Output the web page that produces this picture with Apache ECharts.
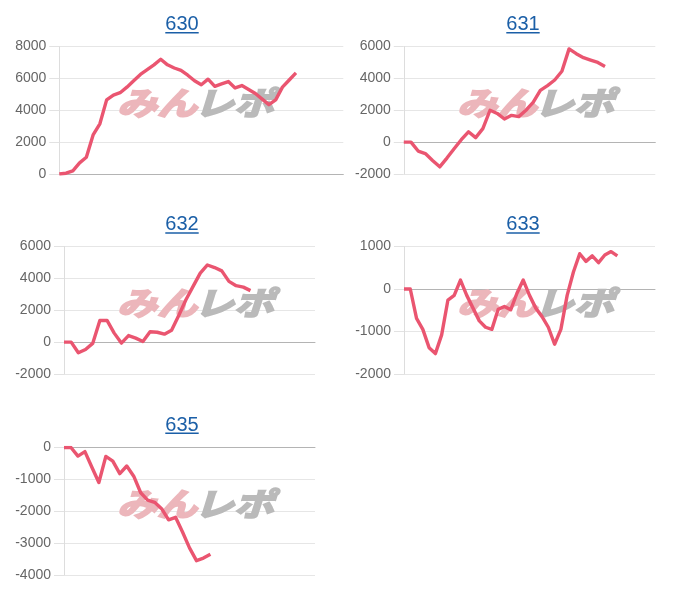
<!DOCTYPE html>
<html>
<head>
<meta charset="utf-8">
<script src="https://cdn.jsdelivr.net/npm/echarts@6/dist/echarts.min.js"></script>
<style>
  html, body { margin: 0; padding: 0; background: #fff; }
  #chart { width: 700px; height: 600px; }
</style>
</head>
<body>
<div id="chart"></div>
<script>
// ---- data ----
const titles = ['630', '631', '632', '633', '635'];
// number of x slots (intervals) on each chart's x axis
const slotCounts = [42, 35, 35, 40, 36];
const s630 = [0, 50, 200, 700, 1050, 2450, 3150, 4650, 4950, 5100, 5450, 5850, 6250, 6550, 6850, 7200, 6850, 6650, 6500, 6200, 5850, 5600, 5950, 5500, 5650, 5800, 5400, 5550, 5300, 5050, 4700, 4350, 4650, 5450, 5900, 6350];
const s631 = [0, 0, -560, -720, -1150, -1550, -1000, -420, 150, 650, 280, 850, 2000, 1800, 1450, 1680, 1600, 2000, 2500, 3250, 3550, 3900, 4450, 5850, 5550, 5300, 5150, 5000, 4750];
const s632 = [0, 0, -670, -460, -80, 1360, 1360, 565, -60, 410, 250, 40, 650, 620, 500, 740, 1670, 2660, 3500, 4330, 4840, 4680, 4470, 3810, 3540, 3450, 3230];
const s633 = [0, 0, -690, -950, -1380, -1520, -1080, -260, -150, 210, -150, -450, -750, -900, -950, -480, -410, -490, -100, 210, -150, -450, -650, -900, -1300, -950, -150, 400, 830, 650, 780, 620, 800, 880, 780];
const s635 = [0, 0, -270, -130, -620, -1100, -280, -430, -820, -580, -900, -1420, -1650, -1720, -1920, -2270, -2190, -2650, -3150, -3550, -3470, -3350];
const yMin = [0, -2000, -2000, -2000, -4000];
const yMax = [8000, 6000, 6000, 1000, 0];
const yStep = [2000, 2000, 2000, 1000, 1000];
const seriesData = [s630, s631, s632, s633, s635];

// ---- layout ----
const layout = [
  { left: 59.3, top: 46.5, width: 284, height: 127.5, tx: 182, ty: 24.5, wx: 200, wy: 103 },
  { left: 403.8, top: 46.5, width: 251.5, height: 127.5, tx: 523, ty: 24.5, wx: 540, wy: 103 },
  { left: 64, top: 246.5, width: 251, height: 127.5, tx: 182, ty: 224.6, wx: 200, wy: 303 },
  { left: 404, top: 246.5, width: 251, height: 127.5, tx: 523, ty: 224.6, wx: 540, wy: 303 },
  { left: 64, top: 447.5, width: 251, height: 127.5, tx: 182, ty: 425, wx: 200, wy: 504 }
];

const LINE = '#ea5570';
const LABEL_FONT = 'Arial, "Liberation Sans", Helvetica, sans-serif';
const WM_FONT = 'italic bold 40px "Noto Sans CJK JP"';

const grids = [], xAxes = [], yAxes = [], series = [], graphics = [];

layout.forEach((L, k) => {
  const n = slotCounts[k];
  const cats = Array.from({ length: n + 1 }, (_, i) => String(i + 1));
  grids.push({ left: L.left, top: L.top, width: L.width, height: L.height, containLabel: false });
  xAxes.push({
    type: 'category', gridIndex: k, data: cats, boundaryGap: false,
    axisLine: { show: true, onZero: true, lineStyle: { color: '#b4b4b4', width: 1 } },
    axisTick: { show: false }, axisLabel: { show: false }, splitLine: { show: false }
  });
  yAxes.push({
    type: 'value', gridIndex: k, min: yMin[k], max: yMax[k], interval: yStep[k],
    axisLine: { show: true, lineStyle: { color: '#dddddd', width: 1 } },
    axisTick: { show: true, length: 10, lineStyle: { color: '#e2e2e2' } },
    axisLabel: { color: '#666666', fontSize: 14, fontFamily: LABEL_FONT, margin: 13,
                 formatter: (v) => String(v) },
    splitLine: { show: true, lineStyle: { color: '#e6e6e6', width: 1 } }
  });
  series.push({
    type: 'line', xAxisIndex: k, yAxisIndex: k, data: seriesData[k],
    showSymbol: false, symbol: 'none', smooth: false, z: 3,
    lineStyle: { color: LINE, width: 3.4, join: 'round' }, itemStyle: { color: LINE },
    animation: false
  });
  // title link
  graphics.push({
    type: 'text', z: 5, style: {
      text: titles[k], x: L.tx, y: L.ty, align: 'center', verticalAlign: 'middle',
      font: '20px ' + LABEL_FONT, fill: '#1b5fa7'
    }
  });
  graphics.push({
    type: 'rect', z: 5, shape: { x: L.tx - 16.7, y: L.ty + 7.6, width: 33.4, height: 1.5 },
    style: { fill: '#1b5fa7' }
  });
  // watermark
  graphics.push({
    type: 'text', z: 1, x: L.wx - 3, y: L.wy, scaleX: 1.0, scaleY: 0.8,
    style: {
      text: 'みん', x: 0, y: 0, align: 'right', verticalAlign: 'middle',
      font: WM_FONT, fill: '#ecb6bb', stroke: '#ecb6bb', lineWidth: 2.5
    }
  });
  graphics.push({
    type: 'text', z: 1, x: L.wx - 6, y: L.wy, scaleX: 1.0, scaleY: 0.8,
    style: {
      text: 'レポ', x: 0, y: 0, align: 'left', verticalAlign: 'middle',
      font: WM_FONT, fill: '#bababa', stroke: '#bababa', lineWidth: 2.5
    }
  });
});

const chart = echarts.init(document.getElementById('chart'), null, { renderer: 'canvas' });
chart.setOption({
  animation: false,
  backgroundColor: '#ffffff',
  grid: grids, xAxis: xAxes, yAxis: yAxes, series: series,
  graphic: { elements: graphics }
});
</script>
</body>
</html>
